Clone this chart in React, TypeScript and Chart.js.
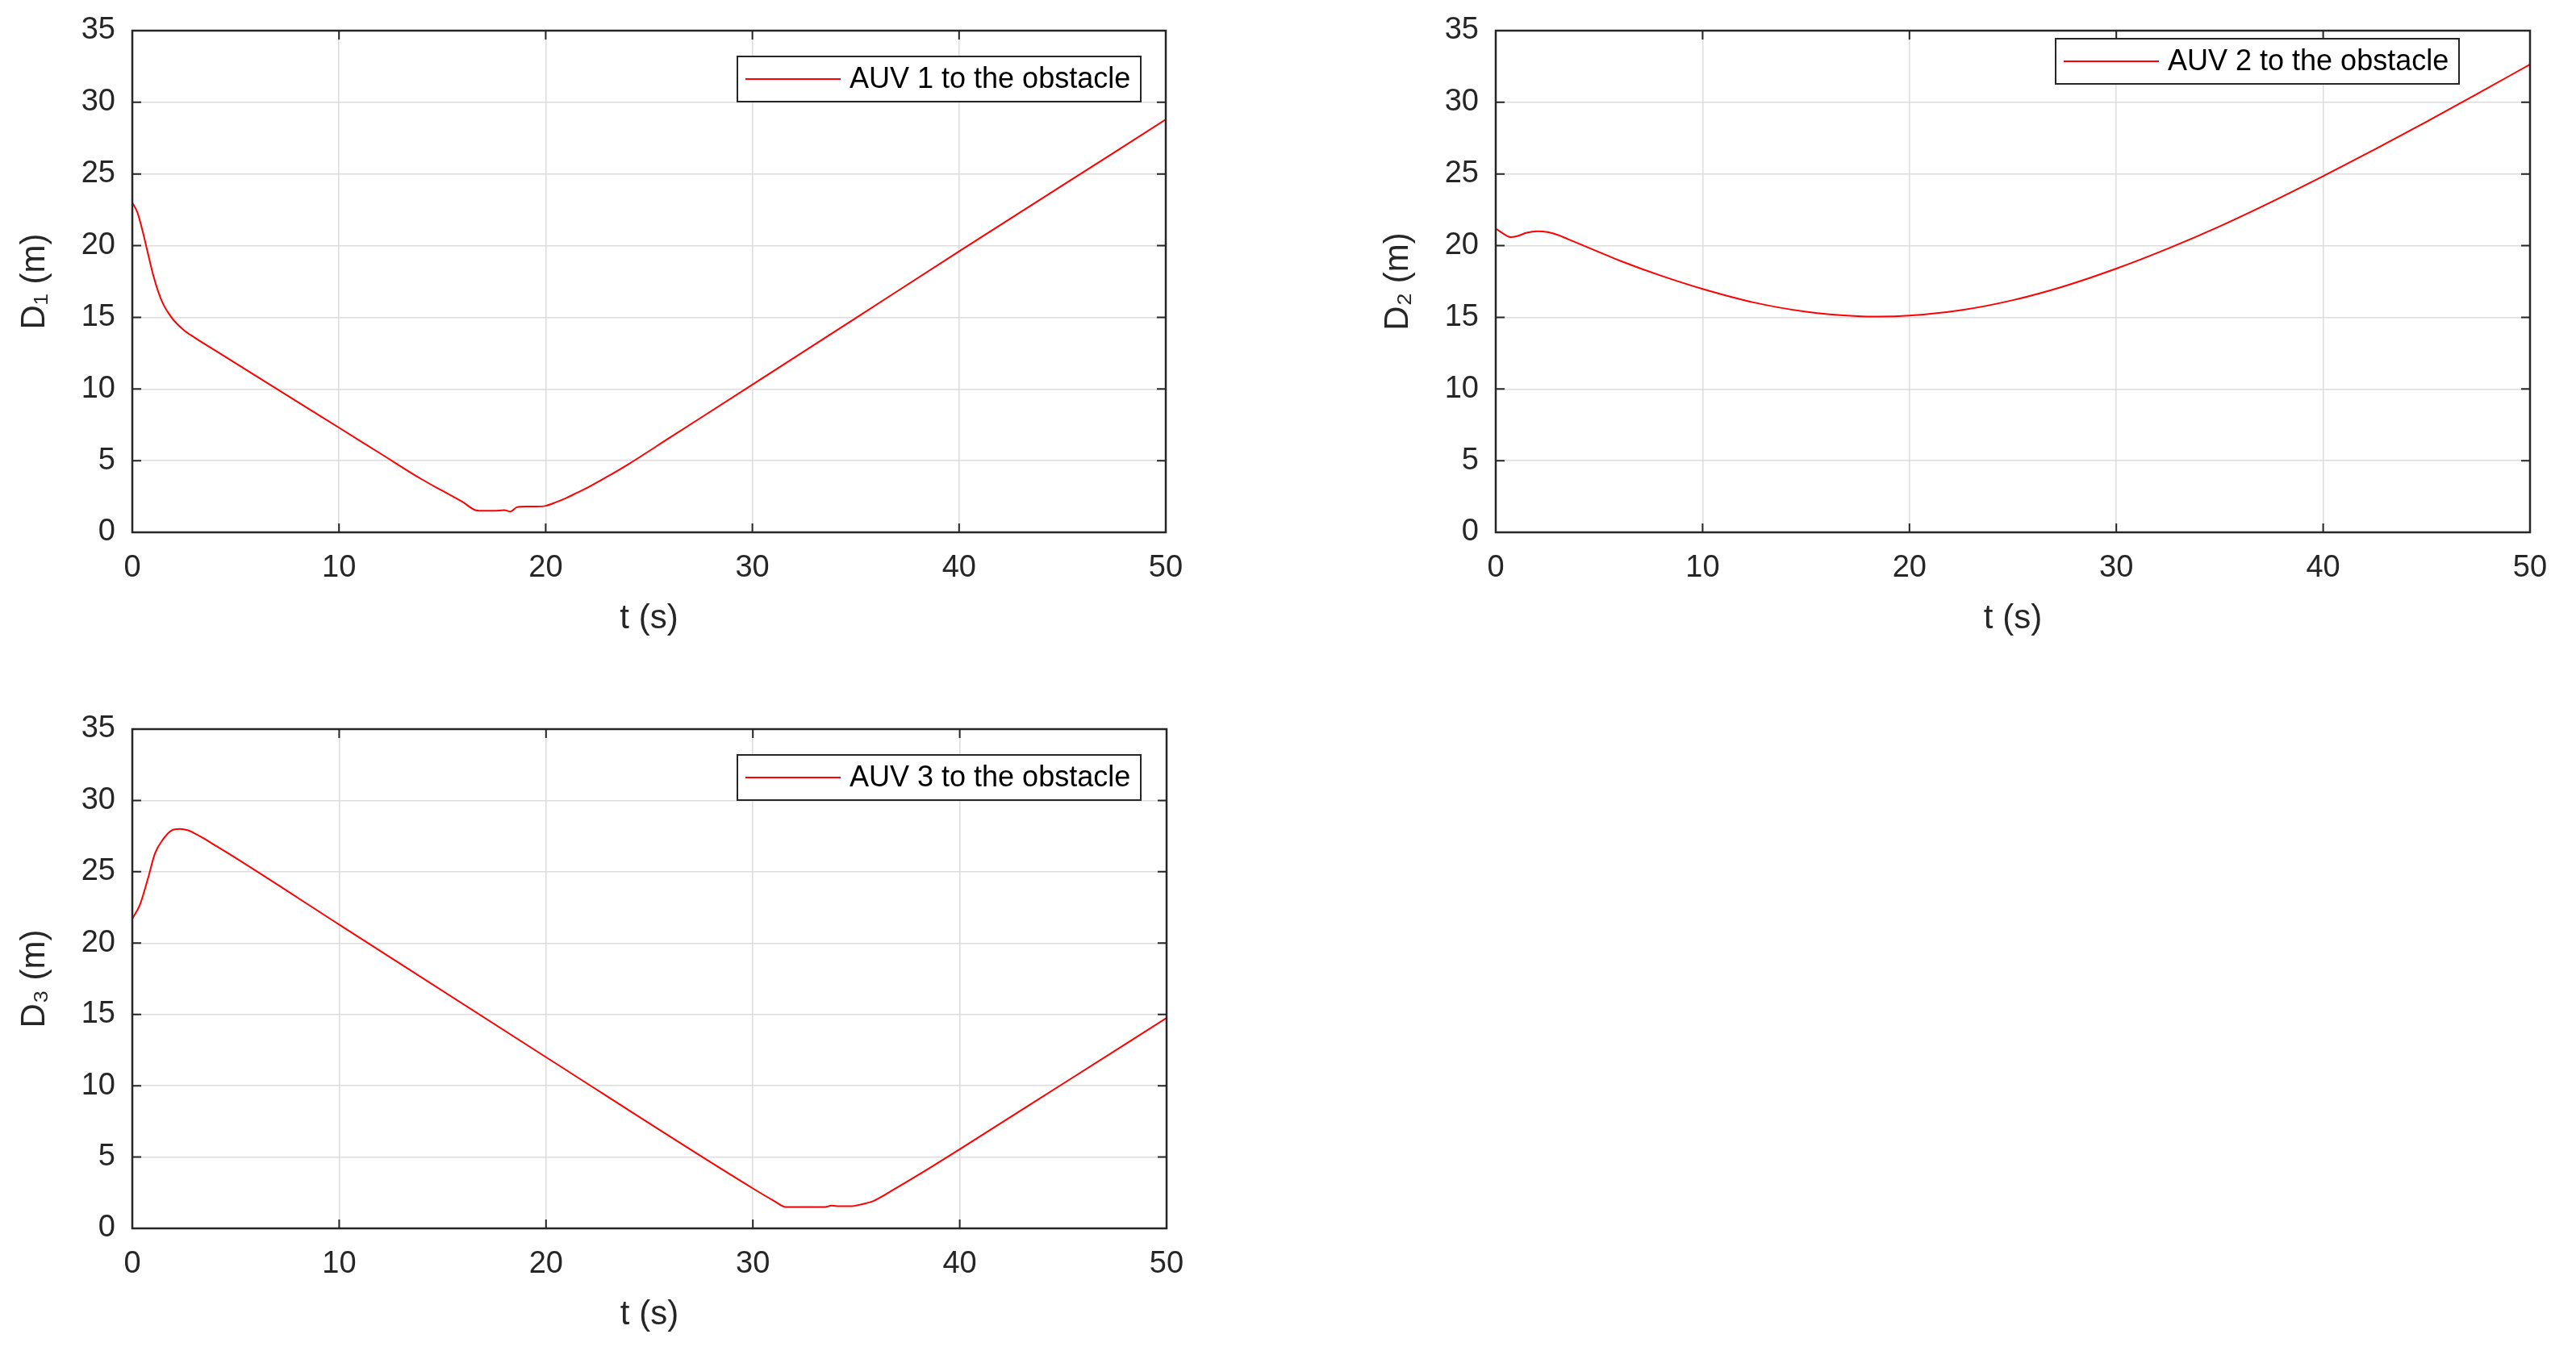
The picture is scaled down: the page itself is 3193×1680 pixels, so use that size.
import React, { useEffect, useRef } from "react";
import { Chart, registerables } from "chart.js";

Chart.register(...registerables);

// ---------------- data ----------------
const xTickValues = [0, 10, 20, 30, 40, 50];
const yTickValues = [0, 5, 10, 15, 20, 25, 30, 35];

const t1 = [0, 0.25, 0.5, 0.75, 1, 1.25, 1.5, 1.75, 2, 2.5, 3, 4, 6, 8, 10, 12, 14, 15, 16, 16.6, 17, 17.5, 18, 18.3, 18.6, 19, 19.5, 20, 20.5, 21, 21.5, 22, 23, 24, 26, 30, 35, 40, 45, 50];
const d1 = [23.0, 22.3, 21.0, 19.5, 18.0, 16.8, 15.9, 15.3, 14.8, 14.1, 13.6, 12.7, 10.9, 9.1, 7.3, 5.5, 3.7, 2.9, 2.1, 1.55, 1.5, 1.5, 1.55, 1.45, 1.75, 1.8, 1.8, 1.85, 2.1, 2.4, 2.75, 3.1, 3.9, 4.75, 6.6, 10.3, 14.95, 19.6, 24.2, 28.8];

const t2 = [0, 0.3, 0.7, 1.0, 1.5, 2.0, 2.5, 3.0, 3.5, 4, 5, 6, 8, 10, 12.5, 15, 17.5, 18.5, 20, 22.5, 25, 27.5, 30, 32.5, 35, 37.5, 40, 42.5, 45, 47.5, 50];
const d2 = [21.2, 20.9, 20.6, 20.65, 20.9, 21.0, 20.95, 20.75, 20.45, 20.15, 19.55, 18.95, 17.9, 16.98, 16.03, 15.39, 15.08, 15.05, 15.12, 15.5, 16.2, 17.18, 18.4, 19.8, 21.35, 23.05, 24.85, 26.72, 28.65, 30.63, 32.65];

const t3 = [0, 0.37, 0.75, 1.1, 1.5, 1.9, 2.3, 2.7, 3.0, 3.5, 4.0, 4.85, 10, 20, 30, 31, 31.6, 32.5, 33.5, 33.8, 34.2, 34.7, 35.3, 35.8, 36.9, 38, 40, 45, 50];
const d3 = [21.7, 22.7, 24.5, 26.3, 27.3, 27.9, 28.0, 27.9, 27.7, 27.3, 26.85, 26.1, 21.3, 12.0, 2.8, 1.95, 1.5, 1.5, 1.5, 1.6, 1.55, 1.55, 1.7, 1.9, 2.8, 3.75, 5.55, 10.15, 14.75];

const seriesLabels = ["AUV 1 to the obstacle", "AUV 2 to the obstacle", "AUV 3 to the obstacle"];
const yTitles = ["D\u2081 (m)", "D\u2082 (m)", "D\u2083 (m)"];
const xTitle = "t (s)";

// ---------------- styles ----------------
const FONT = '"Liberation Sans", Arial, Helvetica, sans-serif';
const AXIS = "#262626";
const GRID = "#dcdcdc";
const LINE = "#ff0000";

const boxTicksPlugin = {
  id: "boxTicks",
  afterDatasetsDraw(chart: any) {
    const { ctx, chartArea: a, scales } = chart;
    const x = scales.x;
    const y = scales.y;
    const L = 11;
    ctx.save();
    ctx.strokeStyle = AXIS;
    ctx.lineWidth = 2;
    ctx.beginPath();
    x.ticks.forEach((tk: any) => {
      const px = x.getPixelForValue(tk.value);
      ctx.moveTo(px, a.bottom);
      ctx.lineTo(px, a.bottom - L);
      ctx.moveTo(px, a.top);
      ctx.lineTo(px, a.top + L);
    });
    y.ticks.forEach((tk: any) => {
      const py = y.getPixelForValue(tk.value);
      ctx.moveTo(a.left, py);
      ctx.lineTo(a.left + L, py);
      ctx.moveTo(a.right, py);
      ctx.lineTo(a.right - L, py);
    });
    ctx.stroke();
    ctx.lineWidth = 2.5;
    ctx.strokeRect(a.left, a.top, a.right - a.left, a.bottom - a.top);
    ctx.restore();
  },
};

const boxLegendPlugin = {
  id: "boxLegend",
  afterDraw(chart: any, _args: any, opts: any) {
    const { ctx, chartArea: a } = chart;
    const ds = chart.data.datasets[0];
    const bx = a.left + opts.x;
    const by = a.top + opts.y;
    const w = opts.w;
    const h = opts.h;
    ctx.save();
    ctx.fillStyle = "#ffffff";
    ctx.fillRect(bx, by, w, h);
    ctx.strokeStyle = AXIS;
    ctx.lineWidth = 2;
    ctx.strokeRect(bx, by, w, h);
    ctx.strokeStyle = ds.borderColor;
    ctx.lineWidth = 2;
    ctx.beginPath();
    ctx.moveTo(bx + 10, by + h / 2);
    ctx.lineTo(bx + 128, by + h / 2);
    ctx.stroke();
    ctx.fillStyle = "#000000";
    ctx.font = `36px ${FONT}`;
    ctx.textBaseline = "middle";
    ctx.textAlign = "left";
    ctx.fillText(ds.label, bx + 139, by + h / 2 + 1);
    ctx.restore();
  },
};

type PanelProps = {
  t: number[];
  d: number[];
  label: string;
  yTitle: string;
  left: number;
  top: number;
  width: number;
  height: number;
  area: { left: number; top: number; right: number; bottom: number };
  legend: { x: number; y: number; w: number; h: number };
};

function Panel(p: PanelProps) {
  const ref = useRef<HTMLCanvasElement | null>(null);
  useEffect(() => {
    if (!ref.current) return;
    const points = p.t.map((tv, i) => ({ x: tv, y: p.d[i] }));
    const titleFontSize = 42;
    const titleLH = titleFontSize * 1.2;
    const xTitleCenter = p.area.bottom + 107;
    const xTitlePadBottom = p.height - xTitleCenter - titleLH / 2;
    const chart = new Chart(ref.current, {
      type: "line",
      data: {
        datasets: [
          {
            label: p.label,
            data: points,
            borderColor: LINE,
            backgroundColor: LINE,
            borderWidth: 2,
            pointRadius: 0,
            cubicInterpolationMode: "monotone",
            fill: false,
          },
        ],
      },
      options: {
        responsive: false,
        animation: false,
        devicePixelRatio: 1,
        layout: {
          padding: { left: 0, top: p.area.top, right: p.width - p.area.right, bottom: 0 },
        },
        plugins: {
          legend: { display: false },
          tooltip: { enabled: false },
          boxLegend: p.legend,
        } as any,
        scales: {
          x: {
            type: "linear",
            min: 0,
            max: 50,
            afterBuildTicks: (s: any) => {
              s.ticks = xTickValues.map((v) => ({ value: v }));
            },
            afterFit: (s: any) => {
              s.height = p.height - p.area.bottom;
              s.paddingLeft = 0;
              s.paddingRight = 0;
            },
            ticks: {
              padding: 22,
              color: AXIS,
              font: { family: FONT, size: 38 },
              maxRotation: 0,
            },
            grid: { color: GRID, lineWidth: 1.5, drawTicks: false },
            border: { display: false },
            title: {
              display: true,
              text: xTitle,
              color: AXIS,
              font: { family: FONT, size: titleFontSize },
              padding: { top: 0, bottom: xTitlePadBottom },
            },
          },
          y: {
            type: "linear",
            min: 0,
            max: 35,
            afterBuildTicks: (s: any) => {
              s.ticks = yTickValues.map((v) => ({ value: v }));
            },
            afterFit: (s: any) => {
              s.width = p.area.left;
              s.paddingTop = 0;
              s.paddingBottom = 0;
            },
            ticks: {
              padding: 21,
              color: AXIS,
              font: { family: FONT, size: 38 },
            },
            grid: { color: GRID, lineWidth: 1.5, drawTicks: false },
            border: { display: false },
            title: {
              display: true,
              text: p.yTitle,
              color: AXIS,
              font: { family: FONT, size: titleFontSize },
              padding: { top: 18, bottom: 0 },
            },
          },
        },
      } as any,
      plugins: [boxTicksPlugin, boxLegendPlugin],
    });
    return () => chart.destroy();
  }, []);
  return (
    <canvas
      ref={ref}
      width={p.width}
      height={p.height}
      style={{ position: "absolute", left: p.left, top: p.top, width: p.width, height: p.height, display: "block" }}
    />
  );
}

export default function App() {
  return (
    <div style={{ position: "absolute", left: 0, top: 0, width: 3193, height: 1680, background: "#ffffff", overflow: "hidden" }}>
      <Panel
        t={t1}
        d={d1}
        label={seriesLabels[0]}
        yTitle={yTitles[0]}
        left={0}
        top={0}
        width={1600}
        height={800}
        area={{ left: 164, top: 38, right: 1445, bottom: 660 }}
        legend={{ x: 750, y: 32, w: 500, h: 56 }}
      />
      <Panel
        t={t2}
        d={d2}
        label={seriesLabels[1]}
        yTitle={yTitles[1]}
        left={1690}
        top={0}
        width={1503}
        height={800}
        area={{ left: 164, top: 38, right: 1446, bottom: 660 }}
        legend={{ x: 694, y: 10, w: 500, h: 56 }}
      />
      <Panel
        t={t3}
        d={d3}
        label={seriesLabels[2]}
        yTitle={yTitles[2]}
        left={0}
        top={866}
        width={1600}
        height={800}
        area={{ left: 164, top: 38, right: 1446, bottom: 657 }}
        legend={{ x: 750, y: 32, w: 500, h: 56 }}
      />
    </div>
  );
}
